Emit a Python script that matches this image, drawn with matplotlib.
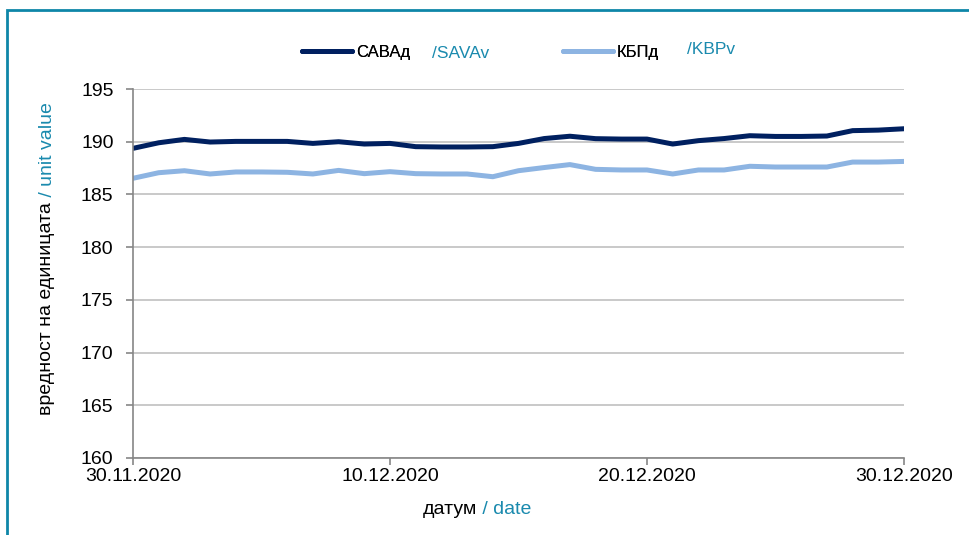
import matplotlib.pyplot as plt
import matplotlib.dates as mdates
import pandas as pd
from matplotlib.patches import Rectangle

plt.rcParams['font.family'] = ['Liberation Sans', 'DejaVu Sans']

# daily values 30.11.2020 - 30.12.2020
dates = pd.date_range('2020-11-30', '2020-12-30', freq='D')
savav = [189.37, 189.90, 190.22, 189.97, 190.03, 190.03, 190.03, 189.84, 190.00, 189.78,
         189.84, 189.53, 189.50, 189.50, 189.53, 189.84, 190.30, 190.52, 190.29, 190.25,
         190.25, 189.78, 190.10, 190.30, 190.57, 190.50, 190.50, 190.54, 191.05, 191.10,
         191.23]
kbpv = [186.53, 187.06, 187.25, 186.94, 187.13, 187.13, 187.10, 186.94, 187.28, 186.97,
        187.16, 186.97, 186.94, 186.94, 186.68, 187.25, 187.55, 187.83, 187.38, 187.32,
        187.32, 186.94, 187.32, 187.32, 187.67, 187.60, 187.60, 187.60, 188.07, 188.07,
        188.13]
yticks = [160, 165, 170, 175, 180, 185, 190, 195]
xtick_idx = [0, 10, 20, 30]

dark = '#002060'
light = '#8DB4E2'
teal = '#1A8AAE'
frame = '#0E86A8'
narrow = ['Liberation Sans Narrow', 'Liberation Sans', 'DejaVu Sans']

fig = plt.figure(figsize=(9.69, 5.35), dpi=100)
ax = fig.add_axes([133 / 969, 1 - 458 / 535, (904 - 133) / 969, (458 - 89) / 535])

# outer frame
fig.patches.append(Rectangle((6.5 / 969, -0.05), 1.2, 1.05 - 10 / 535, transform=fig.transFigure,
                             fill=False, edgecolor=frame, linewidth=2))

l1, = ax.plot(dates, savav, color=dark, lw=3.6, solid_capstyle='round', label='САВАд')
l2, = ax.plot(dates, kbpv, color=light, lw=3.6, solid_capstyle='round', label='КБПд')

ax.set_xlim(dates[0], dates[-1])
ax.set_ylim(160, 195)
ax.set_yticks(yticks)
ax.set_xticks(dates[xtick_idx])
ax.xaxis.set_major_formatter(mdates.DateFormatter('%d.%m.%Y'))
ax.grid(axis='y', color='#C0C0C0', lw=1.2)
ax.set_axisbelow(True)
for s in ['top', 'right']:
    ax.spines[s].set_visible(False)
for s in ['left', 'bottom']:
    ax.spines[s].set_color('#868686')
    ax.spines[s].set_linewidth(1.2)
ax.tick_params(axis='both', colors='#868686', labelcolor='black', labelsize=14, length=5, width=1.2)
ax.tick_params(axis='x', pad=2)
ax.tick_params(axis='y', pad=9)

# y label, two colours
yl = fig.text(47 / 969, 1 - 415 / 535, 'вредност на единицата', rotation=90,
              ha='center', va='bottom', fontsize=14, color='black')
ax.annotate(' / unit value', xy=(0.5, 1), xycoords=yl, rotation=90,
            ha='center', va='bottom', fontsize=14, color=teal)

# x label, two colours
xl = fig.text(423 / 969, 1 - 509 / 535, 'датум', ha='left', va='center', fontsize=14)
ax.annotate(' / date', xy=(1, 0.5), xycoords=xl, ha='left', va='center', fontsize=14, color=teal)

# legend: two entries placed separately, each followed by a teal latin name
for h, x0, tx, name, dy in [(l1, 302, 432, '/SAVAv', 0), (l2, 563, 687, '/KBPv', 3)]:
    lg = fig.legend(handles=[h], loc='center left', bbox_to_anchor=(x0 / 969, 1 - 52 / 535),
                    frameon=False, prop={'family': narrow, 'size': 12}, handlelength=3.0,
                    handletextpad=0.22, borderpad=0, borderaxespad=0)
    fig.add_artist(lg)
    fig.text(tx / 969, 1 - (52 + 1 - dy) / 535, name, ha='left', va='center',
             fontsize=12.5, family=narrow, color=teal)

fig.savefig('out.png', dpi=100)
